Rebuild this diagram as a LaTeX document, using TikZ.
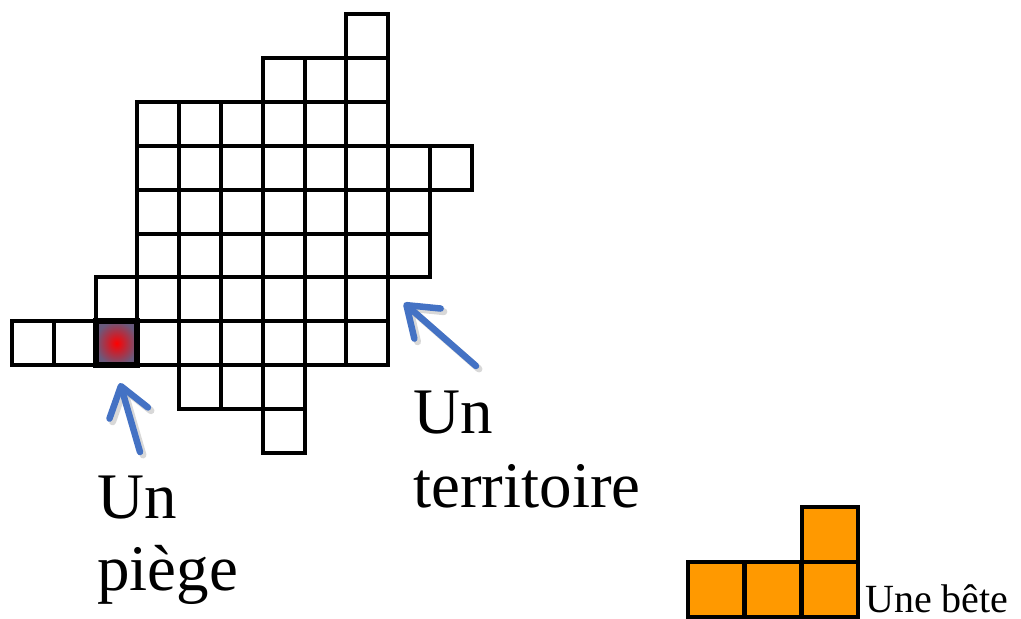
\documentclass[tikz,border=0pt]{standalone}
\usepackage{fontspec}
\setmainfont{Liberation Serif}
\usepackage{xcolor}
\usepackage{tikz}
\usetikzlibrary{arrows.meta, positioning, calc}
\definecolor{arrowBlue}{RGB}{68, 114, 196}
\definecolor{beteOrange}{RGB}{255, 153, 0}
\definecolor{trapEdge}{RGB}{105, 90, 125}

\tikzset{
    cell/.style={draw=black, line width=4pt, line join=miter},
    trapcell/.style={draw=black, line width=6pt, minimum width=41.8pt, minimum height=43.9pt,
        inner sep=0pt, inner color=red, outer color=trapEdge},
    betecell/.style={draw=black, line width=4pt, fill=beteOrange},
    pointer/.style={draw=arrowBlue, line width=6.5pt, line cap=round,
        -{Straight Barb[length=28pt, width=40pt, round]}},
    pointershadow/.style={draw=black!30, opacity=0.5, line width=7pt, line cap=round,
        -{Straight Barb[length=28pt, width=40pt, round]}},
    label/.style={font=\fontsize{65}{72}\selectfont, align=left, inner sep=0pt}
}

\begin{document}
\begin{tikzpicture}[x=1pt, y=-1pt]
    \useasboundingbox (0,0) rectangle (1021,619);

    % Territory grid
    \begin{scope}[shift={(12pt,-14pt)}, x=41.8pt, y=-43.9pt]
        \foreach \r/\a/\b in {0/8/8, 1/6/8, 2/3/8, 3/3/10, 4/3/9, 5/3/9, 6/2/8, 7/0/8, 8/4/6, 9/6/6} {
            \foreach \c in {\a,...,\b} {
                \draw[cell] (\c,\r) rectangle ++(1,1);
            }
        }
        % Trap
        \node[trapcell] (trap) at (2.5,7.5) {};
    \end{scope}

    % Labels
    \node[label, anchor=north west] (piege) at (97,476) {Un\\pi\`ege};
    \node[label, anchor=north west, font=\fontsize{65}{74}\selectfont] (territoire) at (413,391) {Un\\territoire};

    % Arrows
    \coordinate (trapTail) at (140,452);
    \coordinate (trapTip) at (120,383);
    \coordinate (terrTail) at (476,366);
    \coordinate (terrTip) at (404,303);
    \draw[pointershadow] ($(trapTail)+(3,3)$) -- ($(trapTip)+(3,3)$);
    \draw[pointershadow] ($(terrTail)+(3,3)$) -- ($(terrTip)+(3,3)$);
    \draw[pointer] (trapTail) -- (trapTip);
    \draw[pointer] (terrTail) -- (terrTip);

    % Beast
    \foreach \x in {688, 745, 802} {
        \draw[betecell] (\x,562) rectangle ++(56,55);
    }
    \draw[betecell] (802,507) rectangle ++(56,55);
    \node[anchor=base west, inner sep=0pt, font=\fontsize{40}{44}\selectfont] (bete) at (865,612) {Une b\^ete};
\end{tikzpicture}
\end{document}
